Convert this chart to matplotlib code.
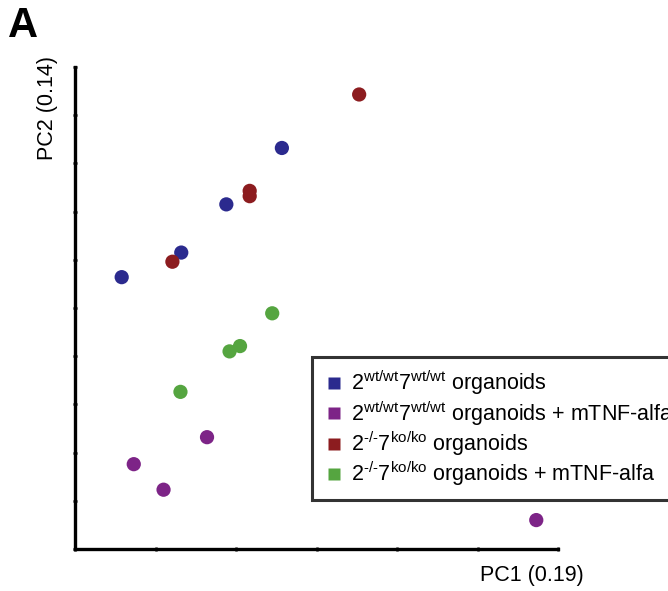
import matplotlib
matplotlib.use("Agg")
import matplotlib.pyplot as plt
from matplotlib.lines import Line2D

plt.rcParams['font.family'] = ['Liberation Sans', 'DejaVu Sans']
plt.rcParams['mathtext.fontset'] = 'custom'
plt.rcParams['mathtext.rm'] = 'Liberation Sans'
plt.rcParams['mathtext.it'] = 'Liberation Sans:italic'
plt.rcParams['mathtext.bf'] = 'Liberation Sans:bold'

# ---- data (PC1, PC2 scores in arbitrary axis units) ----
wt_pc1 = [0.58, 1.32, 1.88, 2.57]
wt_pc2 = [5.64, 6.15, 7.15, 8.32]

wt_tnf_pc1 = [1.64, 0.73, 1.10, 5.73]
wt_tnf_pc2 = [2.32, 1.76, 1.23, 0.60]

ko_pc1 = [3.53, 2.17, 2.17, 1.21]
ko_pc2 = [9.43, 7.43, 7.32, 5.96]

ko_tnf_pc1 = [2.45, 2.05, 1.92, 1.31]
ko_tnf_pc2 = [4.89, 4.21, 4.10, 3.26]

labels = [
    r'2$^{\mathrm{wt/wt}}$7$^{\mathrm{wt/wt}}$ organoids',
    r'2$^{\mathrm{wt/wt}}$7$^{\mathrm{wt/wt}}$ organoids + mTNF-alfa',
    '2$^{\u2010/\u2010}$7$^{\\mathrm{ko/ko}}$ organoids',
    '2$^{\u2010/\u2010}$7$^{\\mathrm{ko/ko}}$ organoids + mTNF-alfa',
]
colors = ['#2b2a8e', '#7d2487', '#8c1c1f', '#55a540']

x_ticks = [0, 1, 2, 3, 4, 5, 6]
y_ticks = [0, 1, 2, 3, 4, 5, 6, 7, 8, 9, 10]

fig = plt.figure(figsize=(6.68, 5.91), dpi=100)
ax = fig.add_axes([75/668, (591-549)/591, (558-75)/668, (549-67)/591])

series = [(wt_pc1, wt_pc2), (wt_tnf_pc1, wt_tnf_pc2), (ko_pc1, ko_pc2), (ko_tnf_pc1, ko_tnf_pc2)]
for (xs, ys), c in zip(series, colors):
    ax.scatter(xs, ys, s=105, color=c, edgecolors='none', zorder=3, clip_on=False)

ax.set_xlim(0, 6)
ax.set_ylim(0, 10)
ax.set_xticks(x_ticks)
ax.set_yticks(y_ticks)
ax.set_xticklabels([])
ax.set_yticklabels([])
ax.tick_params(direction='inout', length=3, width=1.8, color='black')
for s in ['top', 'right']:
    ax.spines[s].set_visible(False)
for s in ['left', 'bottom']:
    ax.spines[s].set_linewidth(2.4)

fig.text(48/668, 1 - 108/591, 'PC2 (0.14)', rotation=90, fontsize=15.5,
         ha='center', va='center')
fig.text(532/668, 1 - 575/591, 'PC1 (0.19)', fontsize=15.5,
         ha='center', va='center')
fig.text(8/668, 1 - 26/591, 'A', fontsize=30, fontweight='bold',
         ha='left', va='center')

handles = [Line2D([], [], marker='s', linestyle='none', markersize=9,
                  markerfacecolor=c, markeredgecolor='none') for c in colors]
leg = fig.legend(handles, labels, loc='upper left',
                 bbox_to_anchor=(312/668, 1 - 357/591), fontsize=15.5,
                 frameon=True, fancybox=False, edgecolor='black',
                 handlelength=0.9, handletextpad=0.35, labelspacing=0.08,
                 borderpad=0.55, borderaxespad=0)
leg.get_frame().set_linewidth(2.2)

fig.savefig('out.png', dpi=100)
